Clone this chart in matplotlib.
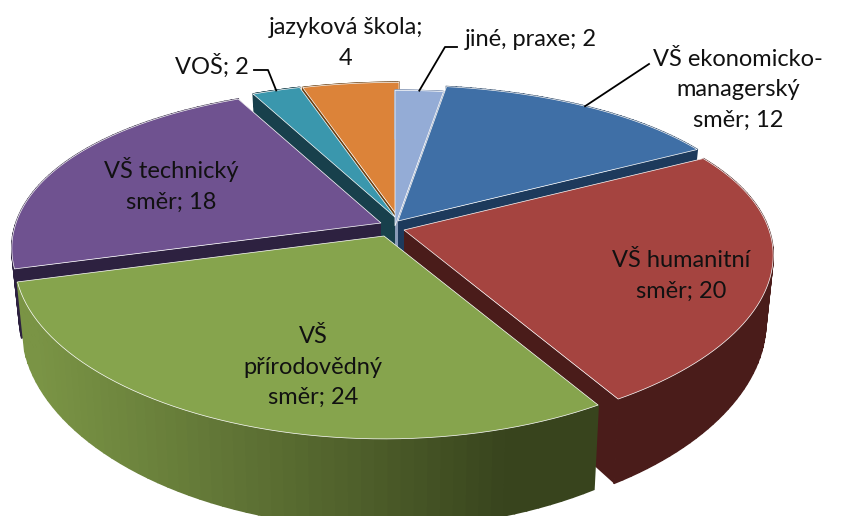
# 3D exploded pie, drawn by hand because matplotlib has no 3D pie
import numpy as np
import matplotlib
matplotlib.use("Agg")
import matplotlib.pyplot as plt
from matplotlib.patches import Polygon
from matplotlib.colors import to_rgb

plt.rcParams['font.family'] = ['Lato', 'DejaVu Sans']

# Data, clockwise from the top
names = ["jiné, praxe", "VŠ ekonomicko-\nmanagerský\nsměr", "VŠ humanitní\nsměr",
         "VŠ\npřírodovědný\nsměr", "VŠ technický\nsměr", "VOŠ", "jazyková škola"]
values = [2, 12, 20, 24, 18, 2, 4]
colors = ["#94acd6", "#3f6fa6", "#a54440", "#86a44d", "#6f5290", "#3a97ad", "#dc8339"]
wall_left = ["#8a9bb8", "#1d3a5c", "#4a1c1a", "#7a9445", "#2d2140", "#18404c", "#6b3f10"]
wall_right = ["#8a9bb8", "#1d3a5c", "#4a1c1a", "#38441d", "#2d2140", "#18404c", "#6b3f10"]
draw_order = [6, 5, 0, 1, 4, 2, 3]

# How far each slice is pulled out, in pixels
shift_x = [1, 4, 10, -10, -13, 2, 5]
shift_y = [0, -5, 4, 10, -3, -8, -8]

# Label places in pixels
label_xy = [(531, 40), (738, 90), (681, 276), (313, 367), (171, 185), (212, 66), (346, 43)]
label_text = [n + "; " + str(v) for n, v in zip(names, values)]
label_text[6] = "jazyková škola;\n4"
# Leader lines: text end and knee, the third point is on the slice rim
leader_start = [(457, 47), (649, 64), None, None, None, (254, 70), None]
leader_knee = [(445, 47), (649, 64), None, None, None, (268, 70), None]

# Projection settings
CX, CY = 394, 226
R = 365.0
PERSP = 0.15
SQUASH = 0.45
TILT = 0.05
DEPTH = 64.0
TAPER = 0.02


def project(u, v, z=0.0):
    p = 1.0 / (1.0 - PERSP * v)
    x = CX + R * u * p * (1 - TAPER * z)
    y = CY + R * SQUASH * v * p * (1 + TILT * v) + DEPTH * z * p * p
    return x, y


def mix(c0, c1, t):
    a, b = np.array(to_rgb(c0)), np.array(to_rgb(c1))
    return tuple(a + (b - a) * t)


def place(i, pt):
    return pt[0] + shift_x[i], pt[1] + shift_y[i]


fig = plt.figure(figsize=(8.41, 5.16), dpi=100)
ax = fig.add_axes([0, 0, 1, 1])
ax.set_xlim(0, 841)
ax.set_ylim(516, 0)
ax.axis("off")

total = sum(values)
edges = np.cumsum([0] + values) / total * 2 * np.pi

for i in draw_order:
    a0, a1 = edges[i], edges[i + 1]
    ang = np.linspace(a0, a1, 60)
    us = np.sin(ang)
    vs = -np.cos(ang)

    # cut faces
    for a in (a0, a1):
        u, v = np.sin(a), -np.cos(a)
        quad = [place(i, project(0, 0)), place(i, project(u, v)),
                place(i, project(u, v, 1)), place(i, project(0, 0, 1))]
        ax.add_patch(Polygon(quad, fc=wall_right[i], ec="none", zorder=1))

    # outer wall in thin strips, light on the left and dark on the right
    for k in range(len(ang) - 1):
        quad = [place(i, project(us[k], vs[k])), place(i, project(us[k + 1], vs[k + 1])),
                place(i, project(us[k + 1], vs[k + 1], 1)), place(i, project(us[k], vs[k], 1))]
        c = mix(wall_left[i], wall_right[i], np.clip((us[k] + 0.9) / 1.2, 0, 1) ** 1.2)
        ax.add_patch(Polygon(quad, fc=c, ec=c, lw=1.2, zorder=1))

    # top face
    rim = [place(i, project(u, v)) for u, v in zip(us, vs)]
    top = [place(i, project(0, 0))] + rim
    ax.add_patch(Polygon(top, fc=colors[i], ec="white", lw=0.5, zorder=1))

    # leader line
    if leader_start[i] is not None:
        mid = (a0 + a1) / 2
        m = place(i, project(np.sin(mid), -np.cos(mid)))
        ax.plot([leader_start[i][0], leader_knee[i][0], m[0]],
                [leader_start[i][1], leader_knee[i][1], m[1]],
                color="black", lw=1.3, zorder=3)

for (x, y), t in zip(label_xy, label_text):
    ax.text(x, y, t, ha="center", va="center", fontsize=17, color="#111111",
            linespacing=1.55, zorder=4)

fig.savefig("out.png", dpi=100)
